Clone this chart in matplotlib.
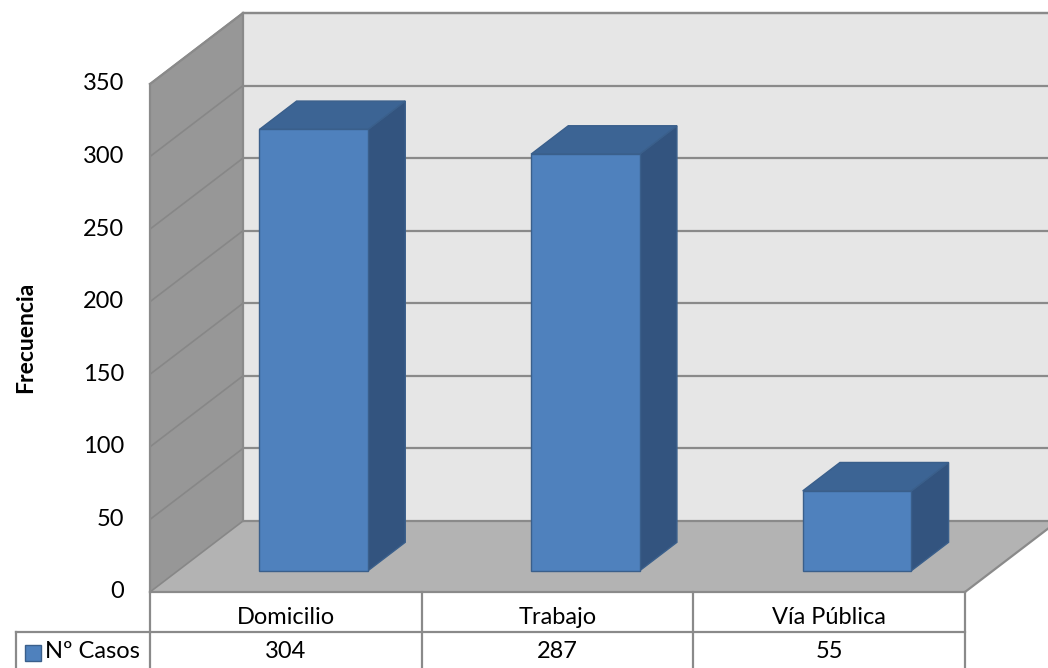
import matplotlib
matplotlib.use("Agg")
import matplotlib.pyplot as plt
from matplotlib.patches import Polygon, Rectangle

# Data
categories = ["Domicilio", "Trabajo", "Vía Pública"]
casos = [304, 287, 55]
series_name = "Nº Casos"
y_ticks = [0, 50, 100, 150, 200, 250, 300, 350]
y_label = "Frecuencia"

plt.rcParams["font.family"] = ["Lato", "DejaVu Sans"]

W, H, DPI = 1048, 668, 100
fig = plt.figure(figsize=(W / DPI, H / DPI), dpi=DPI)
ax = fig.add_axes([0, 0, 1, 1])
ax.set_axis_off()

# Front-plane scale: one category = CAT_PX pixels, one unit = VAL_PX pixels
X0_PX, Y0_PX = 150, 592
CAT_PX = (965 - 150) / 3
VAL_PX = 508 / 350
ax.set_xlim(-X0_PX / CAT_PX, (W - X0_PX) / CAT_PX)
ax.set_ylim((Y0_PX - H) / VAL_PX, Y0_PX / VAL_PX)

# Oblique depth offset (full depth of the plot box)
DX = 93 / CAT_PX
DY = 71 / VAL_PX
VMAX = 350
NCAT = len(categories)


def proj(x, v, d):
    return (x + d * DX, v + d * DY)


def face(pts, color, edge=None, lw=0.0, z=1):
    ax.add_patch(Polygon([proj(*p) for p in pts], closed=True, facecolor=color,
                         edgecolor=edge if edge else color, linewidth=lw, zorder=z,
                         joinstyle="miter"))


grid_c = "#8a8a8a"
# Back wall, side wall and floor
face([(0, 0, 1), (NCAT, 0, 1), (NCAT, VMAX, 1), (0, VMAX, 1)], "#e6e6e6", z=1)
face([(0, 0, 0), (0, VMAX, 0), (0, VMAX, 1), (0, 0, 1)], "#979797", z=1)
face([(0, 0, 0), (NCAT, 0, 0), (NCAT, 0, 1), (0, 0, 1)], "#b3b3b3", z=1)

# Gridlines on back and side walls
for t in y_ticks:
    xs, ys = zip(proj(0, t, 1), proj(NCAT, t, 1))
    ax.plot(xs, ys, color=grid_c, lw=1.6, zorder=2, solid_capstyle="butt")
    xs, ys = zip(proj(0, t, 0), proj(0, t, 1))
    ax.plot(xs, ys, color="#878787", lw=1.2, zorder=2, solid_capstyle="butt")

# Box outline edges
for a, b in [((0, 0, 0), (0, VMAX, 0)), ((0, VMAX, 0), (0, VMAX, 1)),
             ((0, VMAX, 1), (NCAT, VMAX, 1)), ((0, 0, 1), (0, VMAX, 1)),
             ((NCAT, 0, 0), (NCAT, 0, 1)), ((0, 0, 0), (NCAT, 0, 0))]:
    xs, ys = zip(proj(*a), proj(*b))
    ax.plot(xs, ys, color=grid_c, lw=1.6, zorder=2, solid_capstyle="projecting")

# 3D columns
BAR_W = 0.4
D0, D1 = 0.3, 0.7
front_c, top_c, side_c, edge_c = "#4f81bd", "#3c6494", "#33547f", "#3a5f8b"
for i, val in enumerate(casos):
    x0 = i + 0.5 - BAR_W / 2
    x1 = i + 0.5 + BAR_W / 2
    face([(x1, 0, D0), (x1, val, D0), (x1, val, D1), (x1, 0, D1)], side_c, edge_c, 1.0, z=4)
    face([(x0, val, D0), (x1, val, D0), (x1, val, D1), (x0, val, D1)], top_c, edge_c, 1.0, z=4)
    face([(x0, 0, D0), (x1, 0, D0), (x1, val, D0), (x0, val, D0)], front_c, edge_c, 1.0, z=5)

# Value-axis tick labels
tick_x = (124 - X0_PX) / CAT_PX
for t in y_ticks:
    ax.text(tick_x, t, str(t), ha="right", va="center", fontsize=17, color="#000000")

ax.text((26 - X0_PX) / CAT_PX, (Y0_PX - 337) / VAL_PX, y_label, rotation=90,
        ha="center", va="center", fontsize=16.5, fontweight="bold")

# Data table below the plot
row_sep = (Y0_PX - 632) / VAL_PX
row1_y = (Y0_PX - 618) / VAL_PX
row2_y = (Y0_PX - 652) / VAL_PX
bottom = (Y0_PX - H - 5) / VAL_PX
leg_left = (16 - X0_PX) / CAT_PX
tbl_c = "#8a8a8a"
for k in range(NCAT + 1):
    ax.plot([k, k], [0, bottom], color=tbl_c, lw=1.6, zorder=3)
ax.plot([leg_left, NCAT], [row_sep, row_sep], color=tbl_c, lw=1.6, zorder=3)
ax.plot([leg_left, leg_left], [row_sep, bottom], color=tbl_c, lw=1.6, zorder=3)

for i, (cat, val) in enumerate(zip(categories, casos)):
    ax.text(i + 0.5, row1_y, cat, ha="center", va="center", fontsize=17)
    ax.text(i + 0.5, row2_y, str(val), ha="center", va="center", fontsize=17)

# Legend key in the table
sq_x = (25 - X0_PX) / CAT_PX
sq_w = 16 / CAT_PX
sq_h = 16 / VAL_PX
ax.add_patch(Rectangle((sq_x, (Y0_PX - 661) / VAL_PX), sq_w, sq_h, facecolor=front_c,
                       edgecolor=edge_c, lw=1.0, zorder=4))
ax.text((45 - X0_PX) / CAT_PX, row2_y, series_name, ha="left", va="center", fontsize=17)

fig.savefig("out.png", dpi=DPI)
